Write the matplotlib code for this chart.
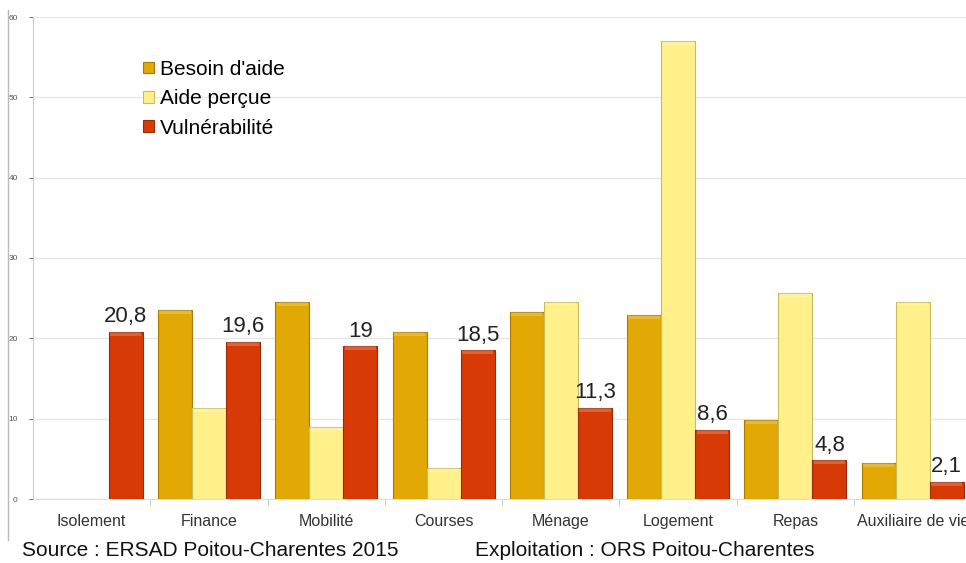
import numpy as np
import matplotlib.pyplot as plt
from matplotlib.lines import Line2D

# Data
categories = ['Isolement', 'Finance', 'Mobilité', 'Courses', 'Ménage',
              'Logement', 'Repas', 'Auxiliaire de vie']
besoin = [0, 23.5, 24.5, 20.8, 23.3, 22.9, 9.8, 4.5]
aide = [0, 11.3, 9.0, 3.9, 24.5, 57.0, 25.6, 24.5]
vulnerabilite = [20.8, 19.6, 19, 18.5, 11.3, 8.6, 4.8, 2.1]
vuln_labels = ['20,8', '19,6', '19', '18,5', '11,3', '8,6', '4,8', '2,1']

plt.rcParams['font.family'] = ['Liberation Sans', 'DejaVu Sans']

fig = plt.figure(figsize=(9.66, 5.63), dpi=100)
ax = fig.add_axes([33 / 966, 64 / 563, 1 - 33 / 966, 482 / 563])

x = np.arange(len(categories))
w = 0.29

series = [
    (besoin, '#E2A905', '#a87c00', "Besoin d'aide"),
    (aide, '#FFF08A', '#c9bb5c', 'Aide perçue'),
    (vulnerabilite, '#D83A05', '#9a2a04', 'Vulnérabilité'),
]
for i, (vals, col, edge, lab) in enumerate(series):
    pos = x + (i - 1) * w
    vals = np.array(vals, dtype=float)
    mask = vals > 0
    ax.bar(pos[mask], vals[mask], width=w, color=col, edgecolor=edge,
           linewidth=0.8, label=lab, zorder=3)
    # lighter top bevel
    ax.bar(pos[mask], np.full(mask.sum(), 0.5), bottom=vals[mask] - 0.5,
           width=w * 0.92, color='white', alpha=0.2, linewidth=0, zorder=4)

for xi, v, t in zip(x, vulnerabilite, vuln_labels):
    ax.text(xi + w, v + 0.6, t, ha='center', va='bottom', fontsize=16,
            color='#222222', zorder=5)

ax.set_ylim(0, 60)
ax.set_xlim(-0.5, 7.454)
ax.set_yticks(range(0, 61, 10))
ax.tick_params(axis='y', labelsize=6, colors='#555555', length=3,
               width=0.6, pad=8)
ax.set_xticks(x)
ax.set_xticklabels(categories, fontsize=11.5, color='#333333')
ax.set_xticks(np.arange(0.5, 7.5, 1), minor=True)
ax.tick_params(axis='x', which='major', length=0, pad=11)
ax.tick_params(axis='x', which='minor', length=4, color='#bbbbbb',
               direction='out')
ax.grid(axis='y', color='#e6e6e6', linewidth=1, zorder=0)

for s in ['top', 'right']:
    ax.spines[s].set_visible(False)
ax.spines['left'].set_color('#cccccc')
ax.spines['bottom'].set_color('#dddddd')

# outer frame line on the left
fig.add_artist(Line2D([8 / 966, 8 / 966], [23 / 563, 553 / 563],
                      color='#bbbbbb', linewidth=1))

leg = ax.legend(loc='upper left', bbox_to_anchor=(0.118, 0.911),
                frameon=False, fontsize=15, handlelength=0.5,
                handleheight=0.5, handletextpad=0.3, labelspacing=0.5,
                borderpad=0, borderaxespad=0)

fig.text(22 / 966, 12 / 563, 'Source : ERSAD Poitou-Charentes 2015',
         fontsize=15, color='#111111', va='center')
fig.text(475 / 966, 12 / 563, 'Exploitation : ORS Poitou-Charentes',
         fontsize=15, color='#111111', va='center')

fig.savefig('out.png', dpi=100)
